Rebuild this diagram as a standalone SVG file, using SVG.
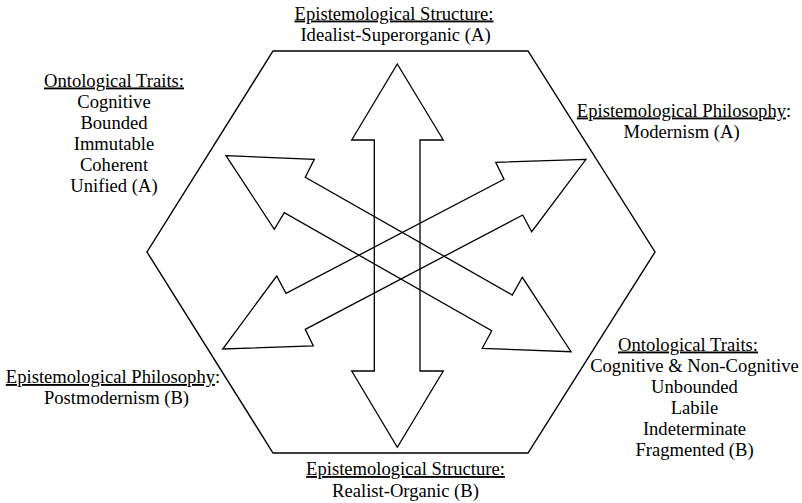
<svg xmlns="http://www.w3.org/2000/svg" width="802" height="503" viewBox="0 0 802 503">
  <style>
    .frame { fill: none; stroke: #000; stroke-width: 1.4; stroke-linejoin: miter; }
    .arrow { fill: none; stroke: #000; stroke-width: 1.3; stroke-linejoin: miter; }
    .lbl text { font-size: 18.6px; fill: #000; text-anchor: middle; }
    .u { text-decoration: underline; }
  </style>
  <rect width="802" height="503" fill="#fff"/>

  <!-- hexagonal frame -->
  <g id="hexagon">
    <polygon class="frame" points="273,51 528,51 655,252 528,453 273,453 147,252"/>
  </g>

  <!-- double-headed arrows crossing in the centre -->
  <g id="connectors">
    <polygon id="arrow-vertical" class="arrow" points="397.3,64 443.3,140 420,140 420,371 443.3,371 397.3,447.3 351.7,371 374.3,371 374.3,140 351.7,140"/>
    <polygon id="arrow-ontological" class="arrow" points="226,155.7 314.3,159.3 305.3,177.3 512.3,295 522.3,277.3 571,351.7 482.3,348.3 491.7,330.7 284.3,212.7 274.3,229.3"/>
    <polygon id="arrow-philosophy" class="arrow" points="586,159.3 495.7,162.3 504,179.3 286,293.3 276.7,276 222.7,349 313.3,346 305.3,329.3 522.7,215 531.7,231.7"/>
  </g>

  <g class="lbl" font-family="'Liberation Serif', 'Times New Roman', 'DejaVu Serif', serif">
    <g id="structure-a">
      <text x="394" y="19.5"><tspan class="u">Epistemological Structure:</tspan></text>
      <text x="395.5" y="40.5">Idealist-Superorganic (A)</text>
    </g>

    <g id="ontology-a">
      <text x="114" y="86.5"><tspan class="u">Ontological Traits:</tspan></text>
      <text x="114" y="107.5">Cognitive</text>
      <text x="114" y="128.5">Bounded</text>
      <text x="114" y="149.5">Immutable</text>
      <text x="114" y="170.5">Coherent</text>
      <text x="114" y="191.5">Unified (A)</text>
    </g>

    <g id="philosophy-a">
      <text x="684" y="116.5"><tspan class="u">Epistemological Philosophy</tspan>:</text>
      <text x="681.5" y="137.5">Modernism (A)</text>
    </g>

    <g id="philosophy-b">
      <text x="113" y="383"><tspan class="u">Epistemological Philosophy</tspan>:</text>
      <text x="116.5" y="404">Postmodernism (B)</text>
    </g>

    <g id="ontology-b">
      <text x="688" y="350.5"><tspan class="u">Ontological Traits:</tspan></text>
      <text x="694.5" y="371.5">Cognitive &amp; Non-Cognitive</text>
      <text x="694.5" y="392.5">Unbounded</text>
      <text x="694.5" y="413.5">Labile</text>
      <text x="694.5" y="434.5">Indeterminate</text>
      <text x="694.5" y="455.5">Fragmented (B)</text>
    </g>

    <g id="structure-b">
      <text x="405.5" y="475"><tspan class="u">Epistemological Structure:</tspan></text>
      <text x="405.5" y="496.5">Realist-Organic (B)</text>
    </g>
  </g>
</svg>
